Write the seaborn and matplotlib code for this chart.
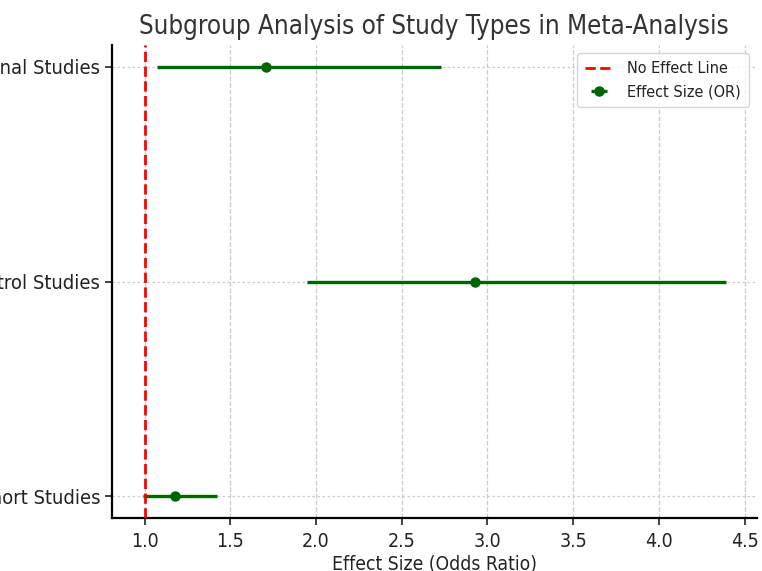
import matplotlib
matplotlib.use('Agg')
import matplotlib.pyplot as plt
import seaborn as sns

# subgroup results
study_types = ['Cohort Studies', 'Case-Control Studies', 'Cross-sectional Studies']
odds_ratio = [1.18, 2.93, 1.71]
ci_lower = [0.99, 1.95, 1.07]
ci_upper = [1.42, 4.39, 2.73]

sns.set_style("ticks")
plt.rcParams['font.family'] = ['DejaVu Sans']
plt.rcParams['font.stretch'] = 'condensed'

fig = plt.figure(figsize=(7.62, 5.71), dpi=100)
ax = fig.add_axes([0.147, 0.093, 0.846, 0.828])

err_lo = [o - l for o, l in zip(odds_ratio, ci_lower)]
err_hi = [u - o for o, u in zip(odds_ratio, ci_upper)]
ax.axvline(1, color='red', linestyle='--', linewidth=2, label='No Effect Line', zorder=4)
ax.errorbar(odds_ratio, study_types, xerr=[err_lo, err_hi], fmt='o', color='darkgreen',
            ecolor='darkgreen', elinewidth=2.4, markersize=6.5, capsize=0,
            label='Effect Size (OR)', zorder=3)

ax.grid(axis='x', linestyle='--', color='#cccccc', linewidth=0.9)
ax.grid(axis='y', linestyle=(0, (2, 2)), color='#cccccc', linewidth=0.9)
ax.set_axisbelow(True)
ax.set_xlim(0.81, 4.57)
ax.set_ylim(-0.1, 2.1)
ax.set_xticks([1.0, 1.5, 2.0, 2.5, 3.0, 3.5, 4.0, 4.5])
ax.tick_params(axis='x', labelsize=14, colors='#222222', width=1.2, length=5, pad=5)
ax.tick_params(axis='y', labelsize=14.5, colors='#222222', width=1.2, length=5)
for sp in ['left', 'bottom']:
    ax.spines[sp].set_linewidth(1.6)
    ax.spines[sp].set_color('black')
sns.despine(ax=ax)

ax.set_xlabel('Effect Size (Odds Ratio)', fontsize=13.9, color='#222222', labelpad=3)
ax.set_title('Subgroup Analysis of Study Types in Meta-Analysis', fontsize=18.6, color='#333333', pad=8)

ax.legend(loc='upper right', fontsize=11.6, frameon=True, labelcolor='#222222', borderpad=0.5,
          handlelength=1.8)

fig.savefig('out.png', dpi=100)
